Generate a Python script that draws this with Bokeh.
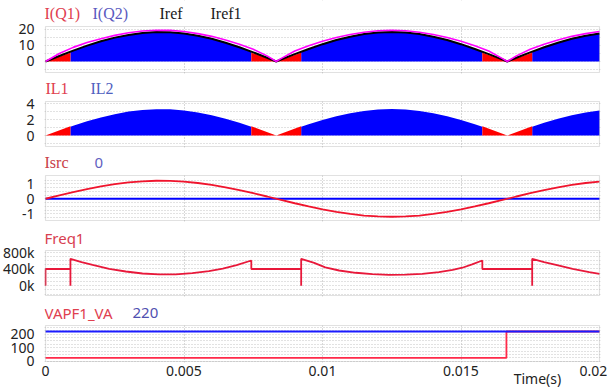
from bokeh.plotting import figure
from bokeh.layouts import column
from bokeh.models import Range1d, FixedTicker, Label, LinearAxis, BoxAnnotation
from bokeh.embed import file_html
from bokeh.resources import INLINE

# ---------------- data ----------------
t_grid = [0.0, 0.0005, 0.001, 0.0015, 0.002, 0.0025, 0.003, 0.0035, 0.004, 0.0045,
          0.005, 0.0055, 0.006, 0.0065, 0.007, 0.0075, 0.008, 0.00833, 0.0085, 0.009,
          0.0095, 0.01, 0.0105, 0.011, 0.0115, 0.012, 0.0125, 0.013, 0.0135, 0.014,
          0.0145, 0.015, 0.0155, 0.016, 0.0165, 0.01667, 0.017, 0.0175, 0.018, 0.0185,
          0.019, 0.0195, 0.02]
iref = [0, 3.4, 6.8, 9.9, 12.6, 14.9, 16.6, 17.8, 18.4, 18.3, 17.5, 16.1, 14.2, 11.7, 8.9, 5.7, 2.3,
        0,
        1.2, 4.6, 7.8, 10.8, 13.4, 15.5, 17.1, 18.1, 18.4, 18.1, 17.1, 15.5, 13.4, 10.8, 7.8, 4.6, 1.2,
        0,
        2.3, 5.7, 8.9, 11.7, 14.2, 16.1, 17.5]
iref1 = [0, 5.0, 8.8, 11.8, 14.2, 16.3, 17.9, 19.0, 19.5, 19.4, 18.7, 17.4, 15.7, 13.4, 10.8, 7.6, 3.5,
         0,
         1.8, 6.5, 9.8, 12.6, 15.0, 16.9, 18.3, 19.2, 19.5, 19.2, 18.3, 16.9, 15.0, 12.6, 9.8, 6.5, 1.8,
         0,
         3.5, 7.6, 10.8, 13.4, 15.7, 17.4, 18.7]

t_sw = [0.0, 0.0009, 0.0009, 0.001, 0.0015, 0.002, 0.0025, 0.003, 0.0035, 0.004, 0.0045, 0.005,
        0.0055, 0.006, 0.0065, 0.007, 0.00743, 0.00743, 0.00923, 0.00923, 0.0095, 0.01, 0.0105,
        0.011, 0.0115, 0.012, 0.0125, 0.013, 0.0135, 0.014, 0.0145, 0.015, 0.0155, 0.01577,
        0.01577, 0.01757, 0.01757, 0.018, 0.0185, 0.019, 0.0195, 0.02]
iq2 = [0, 0, 6.1, 6.8, 9.9, 12.6, 14.9, 16.6, 17.8, 18.4, 18.3, 17.5, 16.1, 14.2, 11.7, 8.9, 6.1,
       0, 0, 6.1, 7.8, 10.8, 13.4, 15.5, 17.1, 18.1, 18.4, 18.1, 17.1, 15.5, 13.4, 10.8, 7.8, 6.1,
       0, 0, 6.1, 8.9, 11.7, 14.2, 16.1, 17.5]
il2 = [0, 0, 1.10, 1.21, 1.77, 2.26, 2.67, 2.99, 3.20, 3.29, 3.27, 3.14, 2.89, 2.54, 2.10, 1.59, 1.10,
       0, 0, 1.10, 1.41, 1.94, 2.41, 2.79, 3.07, 3.24, 3.30, 3.24, 3.07, 2.79, 2.41, 1.94, 1.41, 1.10,
       0, 0, 1.10, 1.59, 2.10, 2.54, 2.89, 3.14]

t_q1 = [0.0, 0.0009, 0.0009, 0.00743, 0.00743, 0.00833, 0.00923, 0.00923,
        0.01577, 0.01577, 0.01667, 0.01757, 0.01757, 0.02]
iq1 = [0, 5.5, 0, 0, 5.5, 0, 5.5, 0, 0, 5.5, 0, 5.5, 0, 0]
il1 = [0, 1.15, 0, 0, 1.15, 0, 1.15, 0, 0, 1.15, 0, 1.15, 0, 0]

t_src = [0.0, 0.0005, 0.001, 0.0015, 0.002, 0.0025, 0.003, 0.0035, 0.004, 0.0045, 0.005,
         0.0055, 0.006, 0.0065, 0.007, 0.0075, 0.008, 0.0085, 0.009, 0.0095, 0.01,
         0.0105, 0.011, 0.0115, 0.012, 0.0125, 0.013, 0.0135, 0.014, 0.0145, 0.015,
         0.0155, 0.016, 0.0165, 0.017, 0.0175, 0.018, 0.0185, 0.019, 0.0195, 0.02]
isrc = [0, 0.22, 0.44, 0.64, 0.82, 0.97, 1.09, 1.16, 1.20, 1.19, 1.14, 1.05, 0.92, 0.76, 0.58,
        0.37, 0.15, -0.08, -0.30, -0.51, -0.71, -0.87, -1.01, -1.12, -1.18, -1.20, -1.18, -1.12,
        -1.01, -0.87, -0.71, -0.51, -0.30, -0.08, 0.15, 0.37, 0.58, 0.76, 0.92, 1.05, 1.14]
t_zero = [0.0, 0.02]
zero = [0, 0]

t_freq = [0.0, 0.0, 0.0009, 0.0009, 0.0009, 0.0013, 0.0017, 0.0023, 0.0029, 0.0035, 0.0041,
          0.0047, 0.0053, 0.0059, 0.0064, 0.0069, 0.00743, 0.00743, 0.00923, 0.00923, 0.00923,
          0.0097, 0.0101, 0.0106, 0.0112, 0.0118, 0.0124, 0.0130, 0.0136, 0.0142, 0.0147,
          0.01505, 0.0154, 0.01577, 0.01577, 0.01757, 0.01757, 0.01757, 0.0180, 0.01843,
          0.01903, 0.01963, 0.02]
freq_k = [0, 400, 400, 0, 643, 565, 500, 405, 340, 293, 270, 272, 300, 350, 410, 490, 602, 400,
          400, 0, 643, 545, 440, 364, 310, 276, 262, 266, 285, 324, 380, 430, 510, 602, 400,
          400, 0, 643, 565, 500, 405, 324, 286]

t_va = [0.0, 0.01664, 0.01664, 0.02]
vapf = [25, 25, 220, 220]
v220 = [220, 220]

x_ticks = [0, 0.005, 0.01, 0.015, 0.01978]
x_tick_labels = ["0", "0.005", "0.01", "0.015", "0.02"]
x_title_tick = 0.01776
x_title = "Time(s)"

RED = "#f0142d"
BLUE = "#0000ff"
GRID = "#c4c4c4"
SERIF = "Liberation Serif"
SANS = "Noto Sans"
TICK_FONT = "Noto Sans"
DX = 0.02 / 554.0  # one pixel of time


def panel(H, box_top, box_bottom, v_bot, v_top, ticks, tick_labels, minor, titles,
          show_x=False):
    """H: canvas height; box_top/box_bottom: plot box edges in px from canvas top."""
    scale = (v_top - v_bot) / (box_bottom - box_top)
    y_end = v_top + box_top * scale
    y_start = v_bot - 1 * scale
    frame_bottom = box_bottom + 1
    bb = H - frame_bottom
    p = figure(frame_width=556, frame_height=frame_bottom,
               x_range=Range1d(-DX, 0.02 + DX), y_range=Range1d(y_start, y_end),
               output_backend="svg", toolbar_location=None,
               min_border_left=42, min_border_right=9,
               min_border_top=0, min_border_bottom=bb)
    p.outline_line_color = None
    p.background_fill_color = "white"
    p.border_fill_color = "white"
    p.yaxis.ticker = FixedTicker(ticks=ticks)
    p.yaxis.major_label_overrides = {t: l for t, l in zip(ticks, tick_labels)}
    p.yaxis.axis_line_color = None
    p.yaxis.major_tick_line_color = None
    p.yaxis.minor_tick_line_color = None
    p.yaxis.major_label_standoff = 4
    p.yaxis.major_label_text_font = TICK_FONT
    p.yaxis.major_label_text_font_size = "14px"
    p.yaxis.major_label_text_color = "#222222"
    p.ygrid.ticker = FixedTicker(ticks=ticks, minor_ticks=minor)
    p.ygrid.grid_line_color = GRID
    p.ygrid.grid_line_dash = "1 2"
    p.ygrid.minor_grid_line_color = GRID
    p.ygrid.minor_grid_line_dash = "1 2"
    p.xgrid.ticker = FixedTicker(ticks=[0.005, 0.01, 0.015])
    p.xgrid.grid_line_color = "#b0b0b0"
    p.xgrid.grid_line_dash = "1 2"
    if show_x:
        p.xaxis.ticker = FixedTicker(ticks=x_ticks)
        p.xaxis.major_label_overrides = {t: l for t, l in zip(x_ticks, x_tick_labels)}
        p.xaxis.axis_line_color = None
        p.xaxis.major_tick_line_color = None
        p.xaxis.minor_tick_line_color = None
        p.xaxis.major_label_standoff = -3
        p.xaxis.major_label_text_font = TICK_FONT
        p.xaxis.major_label_text_font_size = "14px"
        p.xaxis.major_label_text_color = "#222222"
        ax2 = LinearAxis(ticker=FixedTicker(ticks=[x_title_tick]),
                         major_label_overrides={x_title_tick: x_title},
                         axis_line_color=None, major_tick_line_color=None,
                         minor_tick_line_color=None, major_label_standoff=-16,
                         major_label_text_font=TICK_FONT, major_label_text_font_size="14px",
                         major_label_text_color="#222222")
        p.add_layout(ax2, "below")
    else:
        p.xaxis.visible = False
    # white band above the plot box (title area)
    p.add_layout(BoxAnnotation(bottom=v_top, fill_color="white", fill_alpha=1.0,
                               line_alpha=0))
    # gray plot box
    p.add_layout(BoxAnnotation(left=0, right=0.02, bottom=v_bot, top=v_top,
                               fill_alpha=0, line_color="#9c9c9c", line_width=1.2))
    title_y = frame_bottom - (box_top - 13)
    for x, text, color, font, size in titles:
        p.add_layout(Label(x=max(x - 42, 0), y=title_y, x_units="screen", y_units="screen",
                           text=text, text_color=color, text_font=font, text_font_size=size,
                           text_baseline="middle", text_align="left"))
    return p


# Panel 1
p1 = panel(75, 26, 72, -6.9, 21.85, [0, 10, 20], ["0", "10", "20"], [-5, 5, 15],
           [(42, "I(Q1)", "#e0404f", SERIF, "16px"),
            (90, "I(Q2)", "#5a5ac0", SERIF, "16px"),
            (157, "Iref", "#1a1a1a", SERIF, "16px"),
            (208, "Iref1", "#1a1a1a", SERIF, "16px")])
p1.varea(x=t_sw, y1=0, y2=iq2, fill_color=BLUE)
p1.varea(x=t_q1, y1=0, y2=iq1, fill_color="#ff0000")
p1.line(t_grid, iref, line_color="black", line_width=2)
p1.line(t_grid, iref1, line_color="#ff00ff", line_width=1.6)

# Panel 2
p2 = panel(75, 26, 71, -1.375, 4.25, [0, 2, 4], ["0", "2", "4"], [-1, 1, 3],
           [(43, "IL1", "#e0404f", SERIF, "16px"),
            (88, "IL2", "#5060c0", SERIF, "16px")])
p2.varea(x=t_sw, y1=0, y2=il2, fill_color=BLUE)
p2.varea(x=t_q1, y1=0, y2=il1, fill_color="#ff0000")

# Panel 3
p3 = panel(75, 25, 70, -1.45, 1.55, [-1, 0, 1], ["-1", "0", "1"],
           [-1.25, -0.75, -0.5, -0.25, 0.25, 0.5, 0.75, 1.25],
           [(42, "Isrc", "#c84048", SERIF, "16px"),
            (92, "0", "#6060c0", SANS, "15px")])
p3.line(t_zero, zero, line_color=BLUE, line_width=1.8)
p3.line(t_src, isrc, line_color=RED, line_width=1.8)

# Panel 4
p4 = panel(75, 25, 70, -231, 840, [0, 400, 800], ["0k", "400k", "800k"],
           [-200, -100, 100, 200, 300, 500, 600, 700],
           [(40, "Freq1", "#d84050", SANS, "15px")])
p4.line(t_freq, freq_k, line_color="#e8183a", line_width=1.8)

# Panel 5
p5 = panel(87, 25, 61, -1, 264, [0, 100, 200], ["0", "100", "200"],
           [25, 50, 75, 125, 150, 175, 225, 250],
           [(40, "VAPF1_VA", "#e0404f", SANS, "15px"),
            (130, "220", "#5050b0", SANS, "15px")], show_x=True)
p5.line(t_va, vapf, line_color="#ff2a4a", line_width=1.8)
p5.line(t_zero, v220, line_color="#1a1aff", line_width=1.8)

layout = column(p1, p2, p3, p4, p5, spacing=0)
open("out.html", "w").write(file_html(layout, INLINE))
